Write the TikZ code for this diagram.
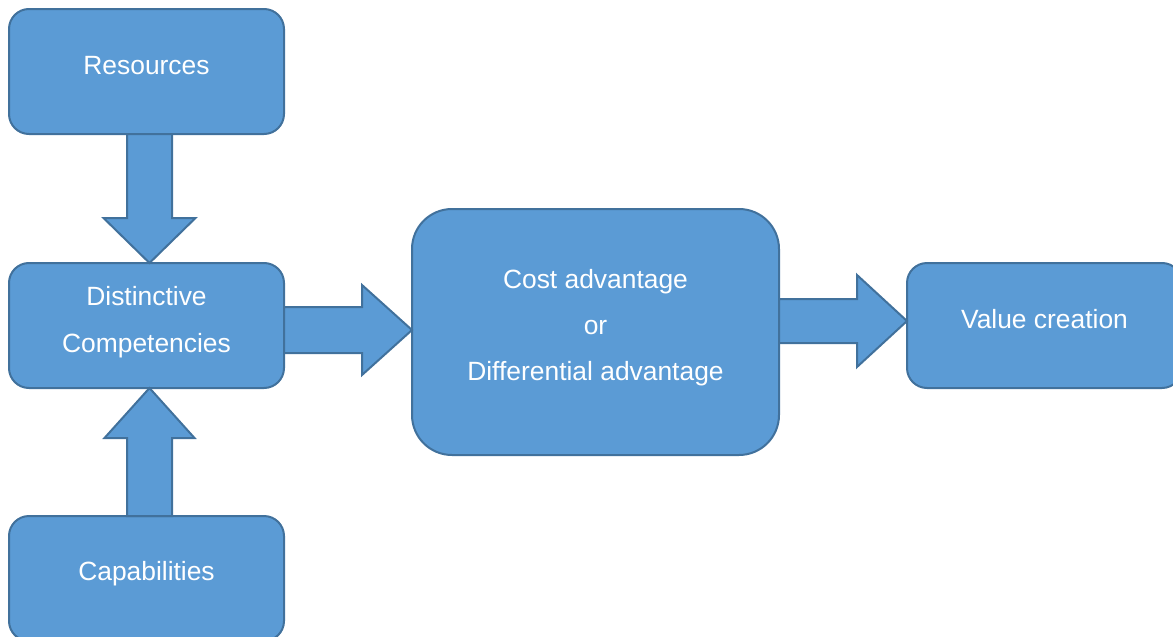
\documentclass[tikz,border=0pt]{standalone}
\usepackage{fontspec}
\setmainfont{Liberation Sans}
\usetikzlibrary{calc}
\definecolor{boxfill}{HTML}{5B9BD5}
\definecolor{boxline}{HTML}{41719C}
\tikzset{
  box/.style={draw=boxline, fill=boxfill, line width=2pt, rounded corners=20pt,
    minimum width=275pt, minimum height=125pt, inner sep=0pt, outer sep=0pt},
  bigbox/.style={box, rounded corners=40pt, minimum width=367pt, minimum height=246pt},
  blockarrow/.style={draw=boxline, fill=boxfill, line width=2pt, line join=miter},
  lbl/.style={text=white, anchor=base, inner sep=0pt,
    font=\fontsize{26.4pt}{46pt}\selectfont}
}
\begin{document}
\begin{tikzpicture}[x=1pt,y=-1pt]
\useasboundingbox (0,0) rectangle (1173,637);
\clip (0,0) rectangle (1173,637);

% boxes
\node[box] (res) at (146.5,71.5) {};
\node[box] (dc)  at (146.5,325.5) {};
\node[box] (cap) at (146.5,578.5) {};
\node[bigbox] (adv) at (595.5,332) {};
\node[box] (val) at (1044.5,325.5) {};

% labels
\node[lbl] (tres) at (146.5,74) {Resources};
\node[lbl] (tdc1) at (146.5,305.5) {Distinctive};
\node[lbl] (tdc2) at (146.5,352) {Competencies};
\node[lbl] (tcap) at (146.5,580) {Capabilities};
\node[lbl] (tadv1) at (595.5,288) {Cost advantage};
\node[lbl] (tadv2) at (595.5,334) {or};
\node[lbl] (tadv3) at (595.5,380.5) {Differential advantage};
\node[lbl] (tval) at (1044.5,328.5) {Value creation};

% Resources -> Distinctive Competencies
\path[blockarrow] let \p1=(res.south), \p2=(dc.north) in
  ({\x1+3pt-22.5pt},{\y1}) -- ({\x1+3pt-22.5pt},{\y2+45pt}) -- ({\x1+3pt-46pt},{\y2+45pt})
  -- ({\x1+3pt},{\y2}) -- ({\x1+3pt+46pt},{\y2+45pt}) -- ({\x1+3pt+22.5pt},{\y2+45pt})
  -- ({\x1+3pt+22.5pt},{\y1}) -- cycle;

% Capabilities -> Distinctive Competencies
\path[blockarrow] let \p1=(cap.north), \p2=(dc.south) in
  ({\x1+3pt-22.5pt},{\y1}) -- ({\x1+3pt-22.5pt},{\y2-50pt}) -- ({\x1+3pt-45pt},{\y2-50pt})
  -- ({\x1+3pt},{\y2}) -- ({\x1+3pt+45pt},{\y2-50pt}) -- ({\x1+3pt+22.5pt},{\y2-50pt})
  -- ({\x1+3pt+22.5pt},{\y1}) -- cycle;

% Distinctive Competencies -> advantage
\path[blockarrow] let \p1=(dc.east), \p2=(adv.west) in
  ({\x1},{\y2+2pt+23pt}) -- ({\x2-50pt},{\y2+2pt+23pt}) -- ({\x2-50pt},{\y2+2pt+45pt})
  -- ({\x2},{\y2+2pt}) -- ({\x2-50pt},{\y2+2pt-45pt}) -- ({\x2-50pt},{\y2+2pt-23pt})
  -- ({\x1},{\y2+2pt-23pt}) -- cycle;

% advantage -> Value creation
\path[blockarrow] let \p1=(adv.east), \p2=(val.west) in
  ({\x1},{\y2+4.5pt+22pt}) -- ({\x2-50pt},{\y2+4.5pt+22pt}) -- ({\x2-50pt},{\y2+4.5pt+46pt})
  -- ({\x2},{\y2+4.5pt}) -- ({\x2-50pt},{\y2+4.5pt-46pt}) -- ({\x2-50pt},{\y2+4.5pt-22pt})
  -- ({\x1},{\y2+4.5pt-22pt}) -- cycle;
\end{tikzpicture}
\end{document}
